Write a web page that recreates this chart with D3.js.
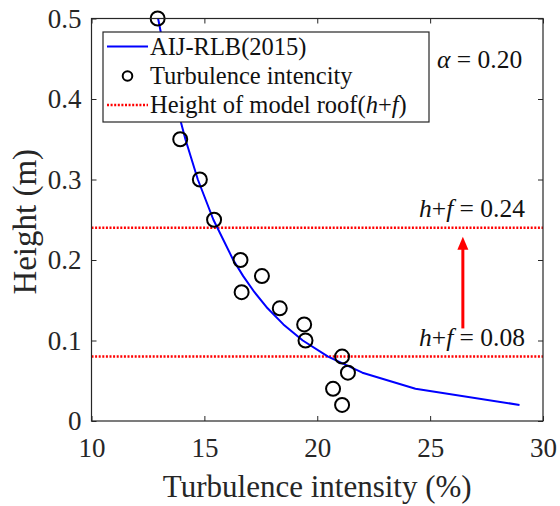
<!DOCTYPE html>
<html>
<head>
<meta charset="utf-8">
<script src="https://cdn.jsdelivr.net/npm/d3@7"></script>
<style>
  body { margin: 0; background: #fff; }
  svg { display: block; font-family: "Liberation Serif", "Times New Roman", serif; }
</style>
</head>
<body>
<svg id="chart" width="560" height="506"></svg>
<script>
// measured turbulence intensity (%) and height (m)
var measIntensity = [12.93, 13.93, 14.8, 15.43, 16.6, 17.55, 16.65, 18.34, 19.42, 19.48, 21.1, 21.36, 20.7, 21.1];
var measHeight    = [0.50, 0.35, 0.30, 0.25, 0.20, 0.18, 0.16, 0.14, 0.12, 0.10, 0.08, 0.06, 0.04, 0.02];

// AIJ-RLB(2015) profile
var aijIntensity = [12.95, 13.30, 13.69, 14.16, 14.71, 15.40, 16.28, 16.72, 17.22, 17.80, 18.50, 19.36, 20.48, 22.00, 24.35, 28.96];
var aijHeight    = [0.50, 0.45, 0.40, 0.35, 0.30, 0.25, 0.20, 0.18, 0.16, 0.14, 0.12, 0.10, 0.08, 0.06, 0.04, 0.02];

var roofHeights = [0.24, 0.08];
var roofLabels = ["0.24", "0.08"];
var xTicks = [10, 15, 20, 25, 30];
var yTicks = [0, 0.1, 0.2, 0.3, 0.4, 0.5];
var arrowX = 26.45, arrowFrom = 0.115, arrowTo = 0.229;

var pLeft = 91.5, pRight = 543, pTop = 18.5, pBottom = 421;
var axisColor = "#262626";

var svg = d3.select("#chart");

var x = d3.scaleLinear().domain([10, 30]).range([pLeft, pRight]);
var y = d3.scaleLinear().domain([0, 0.5]).range([pBottom, pTop]);

// clip for data
svg.append("defs").append("clipPath").attr("id", "clip")
  .append("rect").attr("x", pLeft).attr("y", pTop)
  .attr("width", pRight - pLeft).attr("height", pBottom - pTop);

var plot = svg.append("g").attr("clip-path", "url(#clip)");

// roof height lines
plot.selectAll(".roof")
  .data(roofHeights)
  .enter().append("line")
    .attr("class", "roof")
    .attr("x1", pLeft).attr("x2", pRight)
    .attr("y1", function(d) { return y(d); })
    .attr("y2", function(d) { return y(d); })
    .attr("stroke", "#ff0000")
    .attr("stroke-width", 2.5)
    .attr("stroke-dasharray", "2,1.6");

// AIJ line
var line = d3.line()
  .x(function(d, i) { return x(aijIntensity[i]); })
  .y(function(d) { return y(d); });

plot.append("path")
  .datum(aijHeight)
  .attr("fill", "none")
  .attr("stroke", "#0000ff")
  .attr("stroke-width", 2)
  .attr("stroke-linejoin", "round")
  .attr("d", line);

// measured points
svg.append("g").selectAll("circle")
  .data(measHeight)
  .enter().append("circle")
    .attr("cx", function(d, i) { return x(measIntensity[i]); })
    .attr("cy", function(d) { return y(d); })
    .attr("r", 7)
    .attr("fill", "none")
    .attr("stroke", "#000")
    .attr("stroke-width", 2);

// arrow
svg.append("line")
  .attr("x1", x(arrowX)).attr("x2", x(arrowX))
  .attr("y1", y(arrowFrom)).attr("y2", y(arrowTo) + 10)
  .attr("stroke", "#ff0000").attr("stroke-width", 3);
svg.append("path")
  .attr("d", "M" + x(arrowX) + "," + y(arrowTo) +
    " l-5.5,13 l11,0 Z")
  .attr("fill", "#ff0000");

// axes
var xAxis = d3.axisBottom(x).tickValues(xTicks).tickSize(-5).tickPadding(17)
  .tickFormat(d3.format("d"));
var xAxisTop = d3.axisTop(x).tickValues(xTicks).tickSize(-5).tickFormat("");
var yAxis = d3.axisLeft(y).tickValues(yTicks).tickSize(-5).tickPadding(10)
  .tickFormat(function(d) { return d === 0 ? "0" : d3.format(".1f")(d); });
var yAxisRight = d3.axisRight(y).tickValues(yTicks).tickSize(-5).tickFormat("");

function styleAxis(g) {
  g.select(".domain").remove();
  g.attr("font-family", null).attr("font-size", null);
  g.selectAll("line").attr("stroke", axisColor);
  g.selectAll("text").attr("fill", axisColor)
    .style("font-family", "'Liberation Serif', serif").style("font-size", "27px");
}

svg.append("g").attr("transform", "translate(0," + pBottom + ")").call(xAxis).call(styleAxis);
svg.append("g").attr("transform", "translate(0," + pTop + ")").call(xAxisTop).call(styleAxis);
svg.append("g").attr("transform", "translate(" + pLeft + ",0)").call(yAxis).call(styleAxis);
svg.append("g").attr("transform", "translate(" + pRight + ",0)").call(yAxisRight).call(styleAxis);

svg.append("rect")
  .attr("x", pLeft).attr("y", pTop)
  .attr("width", pRight - pLeft).attr("height", pBottom - pTop)
  .attr("fill", "none").attr("stroke", axisColor).attr("stroke-width", 1.2);

// axis titles
svg.append("text")
  .attr("x", (pLeft + pRight) / 2).attr("y", 497)
  .attr("text-anchor", "middle")
  .style("font-size", "31px").attr("fill", axisColor)
  .text("Turbulence intensity (%)");

svg.append("text")
  .attr("transform", "translate(36," + ((pTop + pBottom) / 2 + 2) + ") rotate(-90)")
  .attr("text-anchor", "middle")
  .style("font-size", "33px").attr("fill", axisColor)
  .text("Height (m)");

// roof annotations
roofHeights.forEach(function(h, i) {
  var t = svg.append("text")
    .attr("x", 525).attr("y", y(h) - 11)
    .attr("text-anchor", "end")
    .style("font-size", "25.5px").attr("fill", "#111");
  t.append("tspan").style("font-style", "italic").text("h");
  t.append("tspan").text("+");
  t.append("tspan").style("font-style", "italic").text("f");
  t.append("tspan").text(" = " + roofLabels[i]);
});

// alpha
var a = svg.append("text")
  .attr("x", 437).attr("y", 68)
  .style("font-size", "25.5px").attr("fill", "#111");
a.append("tspan").style("font-style", "italic").text("α");
a.append("tspan").text(" = 0.20");

// legend
var legend = svg.append("g");
legend.append("rect")
  .attr("x", 103).attr("y", 32).attr("width", 326).attr("height", 90)
  .attr("fill", "#fff").attr("stroke", axisColor).attr("stroke-width", 1.2);

legend.append("line")
  .attr("x1", 107).attr("x2", 148).attr("y1", 46.5).attr("y2", 46.5)
  .attr("stroke", "#0000ff").attr("stroke-width", 2);
legend.append("circle")
  .attr("cx", 127.5).attr("cy", 76).attr("r", 4.8)
  .attr("fill", "none").attr("stroke", "#000").attr("stroke-width", 2);
legend.append("line")
  .attr("x1", 107).attr("x2", 148).attr("y1", 105).attr("y2", 105)
  .attr("stroke", "#ff0000").attr("stroke-width", 2.5)
  .attr("stroke-dasharray", "2,1.6");

var legendLabels = ["AIJ-RLB(2015)", "Turbulence intencity"];
legendLabels.forEach(function(s, i) {
  legend.append("text")
    .attr("x", 150).attr("y", 55 + i * 29)
    .style("font-size", "24.5px").attr("fill", "#111")
    .text(s);
});
var l3 = legend.append("text")
  .attr("x", 150).attr("y", 113)
  .style("font-size", "24.5px").attr("fill", "#111");
l3.append("tspan").text("Height of model roof(");
l3.append("tspan").style("font-style", "italic").text("h");
l3.append("tspan").text("+");
l3.append("tspan").style("font-style", "italic").text("f");
l3.append("tspan").text(")");
</script>
</body>
</html>
